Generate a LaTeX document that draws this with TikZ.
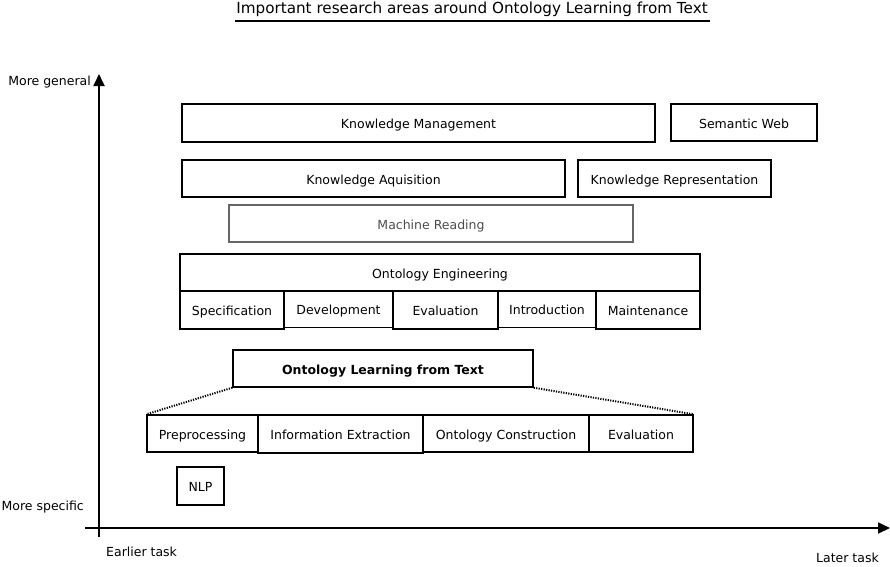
\documentclass[tikz,border=0pt]{standalone}
\usepackage{fontspec}
\setmainfont{DejaVu Sans}
\usetikzlibrary{arrows.meta}
\begin{document}
\begin{tikzpicture}[x=1pt,y=-1pt,
  box/.style={draw, line width=1.4pt, rectangle, inner sep=0pt, text height=13pt, text depth=2pt, font=\fontsize{12.5}{15}\selectfont},
  graybox/.style={box, draw=black!60, text=black!70},
  lbl/.style={inner sep=0pt, font=\fontsize{12.5}{15}\selectfont},
  axis/.style={line width=1.8pt, -{Triangle[length=12pt,width=11pt]}},
  dots/.style={line width=2pt, dash pattern=on 1.2pt off 1.3pt}]
\useasboundingbox (0,0) rectangle (890,566);
% title
\node[lbl, font=\fontsize{15.2}{18}\selectfont] (title) at (472,9.5) {Important research areas around Ontology Learning from Text};
\coordinate (ulA) at (235,21);
\coordinate (ulB) at (710,21);
\draw[line width=1.5pt] (ulA) -- (ulB);
% axes
\coordinate (yb) at (99,537);
\coordinate (yt) at (99,74);
\coordinate (xl) at (85,528);
\coordinate (xr) at (890,528);
\draw[axis] (yb) -- (yt);
\draw[axis] (xl) -- (xr);
\node[lbl, anchor=east] (mg) at (91,82) {More general};
\node[lbl, anchor=east] (ms) at (84,507) {More specific};
\node[lbl, anchor=west] (et) at (106,552) {Earlier task};
\node[lbl, anchor=east] (lt) at (879,558) {Later task};
% boxes
\node[box, minimum width=473pt, minimum height=38pt] (km) at (418.5,123) {Knowledge Management};
\node[box, minimum width=146pt, minimum height=37pt] (sw) at (744,122.5) {Semantic Web};
\node[box, minimum width=383pt, minimum height=37pt] (ka) at (373.5,178.5) {Knowledge Aquisition};
\node[box, minimum width=193pt, minimum height=37pt] (kr) at (674.5,178.5) {Knowledge Representation};
\node[graybox, minimum width=404pt, minimum height=37pt] (mr) at (431,223.5) {Machine Reading};
\node[box, minimum width=520pt, minimum height=37pt] (oe) at (440,272.5) {Ontology Engineering};
\node[box, minimum width=104pt, minimum height=38pt] (spec) at (232,310) {Specification};
\node[box, minimum width=109pt, minimum height=37pt] (dev) at (338.5,309) {Development};
\node[box, minimum width=105pt, minimum height=38pt] (eval) at (445.5,310) {Evaluation};
\node[box, minimum width=98pt, minimum height=37pt] (intro) at (547,309) {Introduction};
\node[box, minimum width=104pt, minimum height=38pt] (maint) at (648,310) {Maintenance};
\node[box, minimum width=300pt, minimum height=37pt, font=\fontsize{12.5}{15}\selectfont\bfseries] (olt) at (383,368.5) {Ontology Learning from Text};
\node[box, minimum width=111pt, minimum height=37pt] (pre) at (202.5,433.5) {Preprocessing};
\node[box, minimum width=165pt, minimum height=38pt] (ie) at (340.5,434) {Information Extraction};
\node[box, minimum width=166pt, minimum height=37pt] (oc) at (506,433.5) {Ontology Construction};
\node[box, minimum width=104pt, minimum height=37pt] (ev2) at (641,433.5) {Evaluation};
\node[box, minimum width=47pt, minimum height=38pt] (nlp) at (200.5,486) {NLP};
% dotted connectors
\draw[dots] (olt.south west) -- (pre.north west);
\draw[dots] (olt.south east) -- (ev2.north east);
\end{tikzpicture}
\end{document}
